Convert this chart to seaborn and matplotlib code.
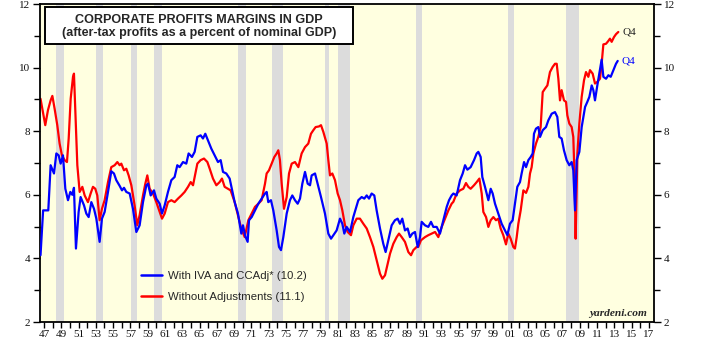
import matplotlib
matplotlib.use("Agg")
import matplotlib.pyplot as plt
from matplotlib.lines import Line2D
from matplotlib.patches import Rectangle
import numpy as np
import pandas as pd
import seaborn as sns

# ---------------- data ----------------
blue_t = [1947.1, 1947.4, 1948.0, 1948.27, 1948.66, 1948.93, 1949.2, 1949.43, 1949.7, 1949.97,
          1950.28, 1950.55, 1950.78, 1950.97, 1951.2, 1951.51, 1951.74, 1952.13, 1952.4, 1952.67,
          1952.98, 1953.29, 1953.56, 1953.94, 1954.21, 1954.52, 1954.91, 1955.29, 1955.6, 1955.87,
          1956.26, 1956.53, 1956.76, 1957.03, 1957.42, 1957.8, 1958.19, 1958.57, 1958.96, 1959.35,
          1959.54, 1959.85, 1960.23, 1960.5, 1960.89, 1961.16, 1961.47, 1961.85, 1962.24, 1962.62,
          1962.93, 1963.2, 1963.59, 1963.97, 1964.24, 1964.63, 1964.94, 1965.25, 1965.63, 1965.9,
          1966.17, 1966.48, 1966.87, 1967.25, 1967.64, 1967.95, 1968.22, 1968.6, 1968.99, 1969.57,
          1969.95, 1970.34, 1970.53, 1970.8, 1971.07, 1971.23, 1971.54, 1971.92, 1972.31, 1972.69,
          1973.08, 1973.27, 1973.46, 1973.77, 1974.04, 1974.43, 1974.7, 1974.93, 1975.2, 1975.59,
          1975.97, 1976.24, 1976.55, 1976.86, 1977.13, 1977.4, 1977.71, 1978.02, 1978.29, 1978.48,
          1978.87, 1979.17, 1979.56, 1980.02, 1980.41, 1980.72, 1980.99, 1981.37, 1981.76, 1982.03,
          1982.26, 1982.53, 1982.92, 1983.3, 1983.88, 1984.27, 1984.57, 1984.85, 1985.12, 1985.42,
          1985.73, 1986.0, 1986.39, 1986.77, 1987.04, 1987.35, 1987.74, 1988.12, 1988.43, 1988.7,
          1988.97, 1989.28, 1989.59, 1989.86, 1990.13, 1990.44, 1990.75, 1991.02, 1991.21, 1991.6,
          1991.98, 1992.29, 1992.56, 1992.95, 1993.33, 1993.72, 1994.11, 1994.38, 1994.68, 1994.88,
          1995.26, 1995.65, 1995.96, 1996.23, 1996.5, 1996.88, 1997.27, 1997.58, 1997.77, 1998.04,
          1998.23, 1998.54, 1998.93, 1999.2, 1999.43, 1999.7, 2000.08, 2000.47, 2000.86, 2001.13,
          2001.43, 2001.74, 2002.01, 2002.28, 2002.59, 2002.78, 2003.06, 2003.29, 2003.56, 2003.83,
          2004.06, 2004.21, 2004.44, 2004.71, 2004.91, 2005.22, 2005.6, 2005.87, 2006.26, 2006.64,
          2006.91, 2007.14, 2007.41, 2007.68, 2007.99, 2008.3, 2008.57, 2008.76, 2008.96, 2009.15,
          2009.46, 2009.73, 2010.12, 2010.38, 2010.62, 2010.89, 2011.08, 2011.27, 2011.54, 2011.77,
          2012.04, 2012.24, 2012.55, 2012.82, 2013.09, 2013.4, 2013.7, 2013.9]
blue_v = [4.10, 5.51, 5.51, 6.93, 6.67, 7.30, 7.24, 6.98, 7.24, 6.19,
          5.83, 6.09, 6.00, 6.22, 4.31, 5.46, 5.93, 5.67, 5.41, 5.30,
          5.77, 5.56, 5.25, 4.52, 5.25, 5.46, 6.09, 6.74, 6.67, 6.46,
          6.28, 6.14, 6.22, 6.09, 6.04, 5.56, 4.83, 5.04, 5.77, 6.30,
          6.35, 5.98, 6.14, 5.88, 5.72, 5.41, 5.67, 6.09, 6.46, 6.56,
          6.93, 6.87, 7.03, 6.98, 7.30, 7.19, 7.35, 7.82, 7.87, 7.77,
          7.92, 7.71, 7.45, 7.24, 7.03, 7.09, 6.72, 6.67, 6.51, 5.77,
          5.41, 4.78, 5.04, 4.70, 4.52, 5.20, 5.30, 5.51, 5.72, 5.88,
          6.04, 6.09, 5.77, 5.83, 5.51, 4.88, 4.36, 4.26, 4.67, 5.41,
          5.83, 5.98, 5.83, 5.72, 5.88, 6.35, 6.72, 6.35, 6.30, 6.61,
          6.67, 6.35, 5.93, 5.41, 4.78, 4.62, 4.73, 4.88, 5.25, 5.09,
          4.78, 4.99, 4.83, 5.30, 5.83, 5.93, 5.88, 5.98, 5.88, 6.04,
          5.98, 5.51, 4.94, 4.46, 4.20, 4.57, 5.04, 5.20, 5.25, 5.09,
          5.25, 4.88, 4.94, 4.67, 4.78, 4.83, 4.36, 4.67, 5.15, 5.04,
          4.99, 5.15, 4.99, 4.99, 4.78, 5.20, 5.62, 5.83, 5.98, 6.04,
          5.98, 6.46, 6.67, 6.93, 6.79, 6.87, 7.09, 7.30, 7.35, 7.19,
          6.56, 6.25, 5.83, 6.19, 6.04, 5.72, 5.41, 5.09, 4.88, 4.73,
          5.09, 5.20, 5.72, 6.25, 6.40, 6.67, 7.03, 6.87, 7.09, 7.19,
          7.30, 7.92, 8.08, 8.13, 7.82, 8.03, 8.13, 8.34, 8.55, 8.60,
          8.45, 7.82, 7.77, 7.40, 7.09, 6.93, 7.03, 6.77, 5.51, 7.09,
          7.35, 8.13, 8.76, 8.92, 9.08, 9.44, 9.29, 8.97, 9.44, 9.81,
          10.25, 9.71, 9.65, 9.76, 9.71, 9.92, 10.12, 10.21]

red_t = [1947.1, 1947.38, 1947.65, 1947.96, 1948.27, 1948.47, 1948.73, 1949.04, 1949.31, 1949.58,
         1949.89, 1950.16, 1950.36, 1950.59, 1950.86, 1950.97, 1951.17, 1951.36, 1951.63, 1951.94,
         1952.21, 1952.59, 1952.9, 1953.17, 1953.44, 1953.67, 1953.94, 1954.21, 1954.52, 1954.91,
         1955.29, 1955.68, 1955.99, 1956.26, 1956.45, 1956.76, 1957.03, 1957.3, 1957.61, 1957.99,
         1958.3, 1958.57, 1958.96, 1959.23, 1959.46, 1959.73, 1960.12, 1960.5, 1960.89, 1961.16,
         1961.47, 1961.85, 1962.24, 1962.62, 1963.01, 1963.4, 1963.78, 1964.17, 1964.48, 1964.75,
         1965.02, 1965.25, 1965.63, 1966.02, 1966.41, 1966.68, 1967.06, 1967.45, 1967.83, 1968.1,
         1968.41, 1968.8, 1969.1, 1969.57, 1969.95, 1970.34, 1970.73, 1971.15, 1971.54, 1971.92,
         1972.31, 1972.69, 1973.08, 1973.27, 1973.54, 1973.85, 1974.16, 1974.43, 1974.62, 1974.81,
         1975.01, 1975.28, 1975.59, 1975.86, 1976.17, 1976.55, 1976.94, 1977.32, 1977.71, 1978.09,
         1978.4, 1978.67, 1978.94, 1979.33, 1979.56, 1979.83, 1980.22, 1980.41, 1980.6, 1980.87,
         1981.18, 1981.49, 1981.76, 1982.03, 1982.34, 1982.65, 1983.03, 1983.3, 1983.69, 1984.07,
         1984.46, 1984.85, 1985.23, 1985.62, 1986.0, 1986.39, 1986.66, 1986.97, 1987.28, 1987.55,
         1987.93, 1988.32, 1988.59, 1988.9, 1989.28, 1989.67, 1989.98, 1990.25, 1990.63, 1990.82,
         1991.13, 1991.6, 1991.98, 1992.37, 1992.76, 1993.14, 1993.53, 1993.91, 1994.3, 1994.68,
         1994.88, 1995.26, 1995.65, 1996.03, 1996.34, 1996.61, 1996.88, 1997.27, 1997.58, 1997.89,
         1998.16, 1998.35, 1998.66, 1998.93, 1999.2, 1999.51, 1999.81, 2000.08, 2000.35, 2000.66,
         2000.97, 2001.24, 2001.51, 2001.82, 2002.01, 2002.21, 2002.4, 2002.67, 2002.98, 2003.29,
         2003.56, 2003.75, 2003.94, 2004.14, 2004.44, 2004.71, 2004.98, 2005.22, 2005.49, 2005.76,
         2006.06, 2006.37, 2006.64, 2006.84, 2007.03, 2007.22, 2007.41, 2007.68, 2007.92, 2008.07,
         2008.3, 2008.57, 2008.76, 2008.92, 2009.03, 2009.23, 2009.46, 2009.73, 2010.0, 2010.23,
         2010.5, 2010.69, 2011.0, 2011.27, 2011.54, 2011.85, 2012.04, 2012.24, 2012.55, 2012.82,
         2013.0, 2013.2, 2013.47, 2013.7, 2013.97]
red_v = [9.02, 8.60, 8.19, 8.66, 8.97, 9.11, 8.71, 8.19, 7.61, 7.24,
         7.09, 7.03, 7.77, 9.02, 9.71, 9.81, 8.29, 6.93, 6.09, 6.25,
         5.98, 5.77, 6.04, 6.25, 6.19, 5.98, 5.20, 5.56, 5.83, 6.40,
         6.87, 6.93, 7.03, 6.93, 6.98, 6.77, 6.82, 6.61, 6.30, 5.67,
         5.04, 5.36, 5.98, 6.35, 6.61, 6.19, 6.04, 5.77, 5.46, 5.25,
         5.41, 5.77, 5.83, 5.77, 5.88, 5.98, 6.09, 6.25, 6.40, 6.30,
         6.67, 6.98, 7.09, 7.14, 7.03, 6.82, 6.51, 6.30, 6.40, 6.51,
         6.25, 6.19, 6.14, 5.77, 5.36, 4.93, 4.67, 5.20, 5.41, 5.62,
         5.72, 5.83, 6.35, 6.67, 6.77, 6.98, 7.19, 7.30, 7.40, 7.09,
         6.35, 5.56, 5.93, 6.67, 6.98, 7.03, 6.87, 7.30, 7.50, 7.61,
         7.92, 8.03, 8.13, 8.15, 8.19, 7.98, 7.61, 7.09, 6.61, 6.67,
         6.46, 6.04, 5.83, 5.51, 5.04, 4.83, 4.73, 5.04, 5.25, 5.25,
         5.09, 4.94, 4.67, 4.36, 3.94, 3.52, 3.36, 3.47, 3.84, 4.15,
         4.46, 4.67, 4.78, 4.67, 4.52, 4.20, 4.10, 4.26, 4.36, 4.36,
         4.57, 4.67, 4.73, 4.78, 4.83, 4.67, 4.99, 5.25, 5.51, 5.72,
         5.78, 6.04, 6.14, 6.19, 6.37, 6.25, 6.19, 6.30, 6.40, 6.51,
         6.04, 5.46, 5.30, 4.99, 5.20, 5.30, 5.20, 5.25, 4.94, 4.73,
         4.44, 4.78, 4.62, 4.36, 4.31, 4.67, 5.09, 5.51, 6.14, 6.06,
         6.25, 6.67, 6.87, 7.30, 7.61, 7.82, 8.13, 9.23, 9.34, 9.44,
         9.86, 10.02, 10.12, 10.12, 9.65, 8.97, 9.29, 8.97, 8.92, 8.50,
         8.24, 8.13, 7.82, 6.46, 4.62, 7.30, 8.24, 9.08, 9.60, 9.86,
         9.71, 9.92, 9.81, 9.50, 9.55, 9.65, 10.12, 10.73, 10.75, 10.84,
         10.91, 10.81, 10.96, 11.05, 11.12]

recession_start = [1948.87, 1953.52, 1957.57, 1960.27, 1969.92, 1973.92, 1980.04, 1981.52, 1990.56, 2001.22, 2007.97]
recession_end = [1949.78, 1954.36, 1958.30, 1961.12, 1970.88, 1975.20, 1980.52, 1982.86, 1991.21, 2001.90, 2009.45]

years = list(range(1947, 2018))
label_years = list(range(1947, 2018, 2))

blue_label = "With IVA and CCAdj* (10.2)"
red_label = "Without Adjustments (11.1)"
title1 = "CORPORATE PROFITS MARGINS IN GDP"
title2 = "(after-tax profits as a percent of nominal GDP)"

# ---------------- styling ----------------
sns.set_theme(style="white")
plt.rcParams["font.family"] = ["Liberation Serif", "DejaVu Serif"]

W, H = 706, 346
fig = plt.figure(figsize=(W / 100, H / 100), dpi=100)
ax = fig.add_axes([40 / W, 1 - 322 / H, 614 / W, 318 / H])
ax.set_facecolor("#FFFFE0")

for s, e in zip(recession_start, recession_end):
    ax.axvspan(s, e, color="#DCDCDC", lw=0, zorder=0.5)

df_red = pd.DataFrame({"t": red_t, "v": red_v})
df_blue = pd.DataFrame({"t": blue_t, "v": blue_v})
sns.lineplot(data=df_red, x="t", y="v", ax=ax, color="#FF0000", lw=1.6,
             sort=False, estimator=None, zorder=2)
sns.lineplot(data=df_blue, x="t", y="v", ax=ax, color="#0000FF", lw=1.6,
             sort=False, estimator=None, zorder=3)

ax.set_xlim(1947.04, 2018.1)
ax.set_ylim(2, 12)
ax.set_xlabel("")
ax.set_ylabel("")

ax.set_xticks([y + 0.5 for y in label_years])
ax.set_xticklabels([f"{y % 100:02d}" for y in label_years])
ax.set_xticks([y + 0.5 for y in years], minor=True)
ax.set_yticks(np.arange(2, 13, 2))
ax.set_yticks(np.arange(3, 12, 2), minor=True)
ax.set_yticklabels([str(v) for v in range(2, 13, 2)])

ax.tick_params(axis="both", which="both", direction="out", color="black",
               labelsize=8, labelcolor="#111111")
ax.tick_params(axis="y", which="both", left=True, right=True,
               labelleft=True, labelright=True)
ax.tick_params(axis="y", which="major", length=5, width=1, pad=2)
ax.tick_params(axis="y", which="minor", length=4, width=1)
ax.tick_params(axis="x", which="both", bottom=True, top=False, length=4, width=1, pad=2)

for sp in ax.spines.values():
    sp.set_visible(True)
    sp.set_color("black")
    sp.set_linewidth(1.3)

# legend
handles = [Line2D([], [], color="#0000FF", lw=1.8),
           Line2D([], [], color="#FF0000", lw=1.8)]
leg = ax.legend(handles, [blue_label, red_label], loc="upper left",
                bbox_to_anchor=(141 / W, 1 - 271 / H), bbox_transform=fig.transFigure,
                frameon=False, borderpad=0, borderaxespad=0, handlelength=1.85,
                handletextpad=0.55, labelspacing=0.95,
                prop={"family": "Liberation Sans", "size": 8.2})

# title box
fig.add_artist(Rectangle((45 / W, 1 - 44 / H), 308 / W, 37 / H, transform=fig.transFigure,
                         facecolor="white", edgecolor="black", lw=1.4, zorder=5))
fig.text(199 / W, 1 - 20 / H, title1, ha="center", va="center", fontsize=9.1,
         fontweight="bold", family="Liberation Sans", zorder=6)
fig.text(199 / W, 1 - 33 / H, title2, ha="center", va="center", fontsize=9.0,
         fontweight="bold", family="Liberation Sans", zorder=6)

# end labels
ax.annotate("Q4", (red_t[-1], red_v[-1]), xytext=(3, 0), textcoords="offset points",
            va="center", ha="left", fontsize=8, color="#222222")
ax.annotate("Q4", (blue_t[-1], blue_v[-1]), xytext=(3, 0), textcoords="offset points",
            va="center", ha="left", fontsize=8, color="#0000FF")

ax.text(0.988, 0.012, "yardeni.com", transform=ax.transAxes, ha="right", va="bottom",
        fontsize=8.2, fontweight="bold", fontstyle="italic", family="Liberation Serif")

fig.savefig("out.png", dpi=100, facecolor="white")
